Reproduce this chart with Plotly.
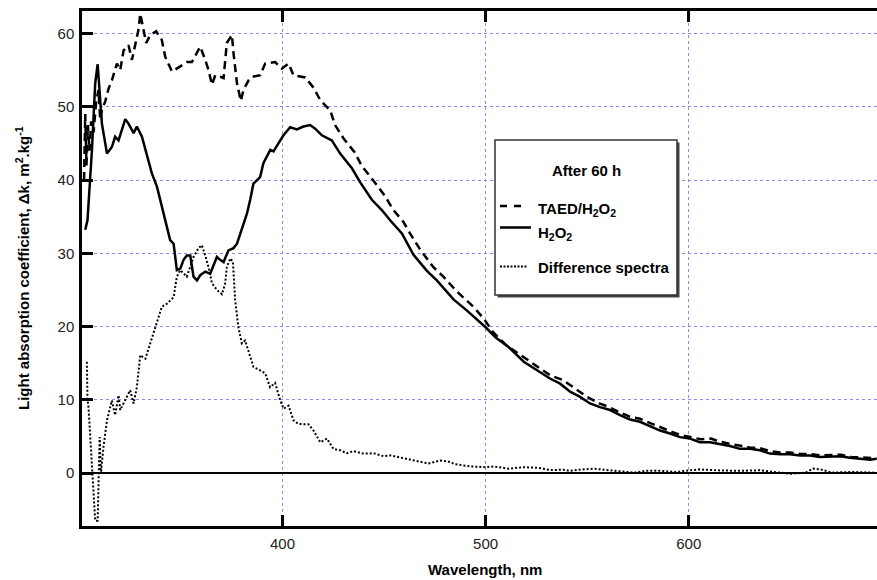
import plotly.graph_objects as go

# ---------------- data ----------------
wl_h2o2 = [302.9, 304.0, 306.2, 307.8, 309.0, 310.3, 311.1, 313.6, 316.0, 317.6, 319.3, 322.6,
           324.2, 326.7, 328.3, 330.8, 333.3, 335.7, 338.2, 341.4, 344.7, 346.4, 348.0, 349.7,
           351.3, 352.9, 354.6, 356.2, 357.9, 359.5, 362.0, 364.4, 366.0, 367.7, 369.3, 371.0,
           373.4, 375.9, 377.6, 379.2, 380.8, 382.5, 384.1, 385.7, 389.0, 390.6, 394.0, 395.6,
           398.0, 400.5, 403.8, 407.1, 410.3, 413.6, 416.1, 419.4, 424.3, 428.4, 434.2, 438.2,
           444.0, 448.9, 453.0, 458.8, 464.5, 471.1, 476.0, 480.9, 484.2, 490.7, 500.0, 505.0,
           511.3, 518.8, 526.8, 531.7, 536.7, 541.6, 546.5, 551.4, 556.3, 561.3, 566.2, 571.1,
           576.0, 581.0, 585.9, 590.8, 595.7, 600.6, 605.5, 610.5, 615.4, 620.3, 625.2, 630.1,
           635.1, 640.0, 644.9, 649.8, 654.8, 659.7, 664.6, 669.5, 674.5, 679.4, 684.3, 689.2,
           692.5]
k_h2o2 = [33.2, 34.5, 44.1, 53.2, 55.8, 50.0, 47.7, 43.6, 44.5, 45.9, 45.4, 48.3,
          47.7, 46.4, 47.3, 45.9, 43.2, 40.9, 39.1, 35.4, 31.8, 31.3, 27.7, 27.9,
          29.1, 29.7, 29.7, 26.8, 26.3, 27.0, 27.5, 27.2, 28.4, 29.5, 29.1, 28.8,
          30.4, 30.7, 31.3, 32.7, 33.8, 35.4, 37.3, 39.5, 40.4, 42.3, 44.1, 43.9,
          45.0, 46.1, 47.2, 46.9, 47.3, 47.5, 47.0, 46.1, 45.4, 43.6, 41.6, 39.7,
          37.3, 35.9, 34.5, 32.7, 29.8, 27.6, 26.3, 24.8, 23.7, 22.2, 19.9, 18.5,
          17.2, 15.2, 13.8, 12.9, 12.2, 11.1, 10.4, 9.5, 9.0, 8.6, 7.9, 7.3,
          7.0, 6.4, 5.8, 5.4, 4.9, 4.7, 4.2, 4.2, 4.0, 3.7, 3.3, 3.3,
          3.1, 2.65, 2.55, 2.55, 2.4, 2.4, 2.2, 2.2, 2.3, 2.1, 1.95, 1.8,
          1.95]

wl_taed = [302.3, 302.9, 303.5, 304.2, 305.0, 305.8, 307.0, 308.2, 309.4, 310.3, 311.1, 312.7,
           314.4, 316.0, 318.5, 320.1, 321.8, 324.2, 325.9, 327.5, 329.1, 330.0, 331.3, 332.9,
           334.9, 337.8, 340.6, 342.3, 345.6, 349.7, 353.0, 355.4, 359.5, 362.0, 363.6, 365.3,
           366.9, 369.3, 371.0, 372.6, 375.1, 375.9, 377.6, 379.5, 380.8, 383.3, 385.2, 389.0,
           391.5, 396.4, 399.7, 403.0, 405.4, 411.2, 415.3, 418.6, 423.5, 425.9, 430.0, 435.5,
           439.1, 444.8, 450.5, 454.6, 459.5, 462.8, 467.8, 474.3, 479.2, 485.8, 494.0, 499.0,
           503.8, 510.4, 518.6, 527.0, 532.0, 538.0, 545.0, 550.0, 556.0, 560.0, 566.0, 571.0,
           576.0, 581.0, 586.0, 591.0, 596.0, 602.0, 606.0, 611.0, 615.0, 620.0, 625.0, 630.0,
           635.0, 640.0, 645.0, 650.0, 655.0, 660.0, 665.0, 670.0, 675.0, 680.0, 685.0, 690.0,
           692.5]
k_taed = [40.0, 49.0, 42.0, 47.5, 44.0, 48.0, 46.5, 50.5, 52.3, 48.2, 49.6, 50.7,
          52.5, 53.6, 55.9, 55.0, 57.7, 58.4, 56.4, 58.7, 60.5, 62.7, 60.9, 58.7,
          59.8, 60.3, 59.1, 56.8, 54.8, 55.5, 56.1, 56.1, 58.2, 56.4, 55.0, 53.0,
          54.3, 54.1, 53.9, 58.7, 59.8, 57.3, 53.2, 50.8, 52.3, 53.6, 54.1, 54.3,
          55.9, 56.1, 55.2, 55.9, 54.3, 54.0, 52.6, 50.9, 49.5, 47.5, 45.7, 43.8,
          41.9, 39.9, 37.8, 35.9, 34.3, 32.7, 30.5, 28.1, 26.8, 24.8, 22.7, 21.1,
          19.2, 17.4, 15.8, 14.2, 13.3, 12.7, 11.3, 10.4, 9.5, 9.1, 8.3, 7.7,
          7.4, 6.8, 6.2, 5.7, 5.2, 4.9, 4.6, 4.7, 4.3, 4.0, 3.7, 3.5,
          3.4, 3.0, 2.8, 2.8, 2.6, 2.6, 2.4, 2.4, 2.5, 2.2, 2.1, 2.0,
          2.0]

wl_diff = [303.7, 304.0, 304.5, 305.4, 306.7, 307.8, 309.0, 310.0, 310.6, 311.9, 313.6, 316.0,
           317.6, 319.3, 320.1, 322.6, 325.0, 326.7, 328.3, 330.0, 332.5, 334.9, 337.4, 340.6,
           343.1, 346.4, 348.0, 349.7, 352.9, 356.2, 358.7, 360.3, 362.0, 363.6, 365.3, 367.7,
           370.2, 371.8, 372.6, 374.3, 375.6, 376.7, 378.3, 380.0, 381.6, 383.3, 385.7, 389.0,
           391.5, 393.9, 396.4, 398.9, 400.5, 403.0, 405.4, 407.9, 412.8, 415.3, 418.6, 421.9,
           425.1, 428.4, 431.7, 435.0, 439.9, 444.8, 449.7, 453.2, 462.6, 471.9, 477.6, 481.3,
           485.1, 492.6, 500.0, 503.8, 511.3, 518.8, 526.3, 531.9, 538.5, 541.3, 546.0, 553.5,
           558.2, 563.8, 573.2, 578.8, 586.3, 593.7, 600.3, 605.0, 614.4, 623.8, 635.0, 642.5,
           650.0, 657.5, 661.2, 665.0, 670.6, 680.0, 691.2]
k_diff = [15.2, 10.0, 9.0, 4.5, -1.0, -6.5, -6.5, 4.9, -0.1, 3.6, 7.2, 9.9,
          7.9, 10.6, 8.6, 9.9, 11.3, 9.5, 11.7, 16.1, 15.6, 17.7, 19.9, 22.7,
          23.1, 24.0, 26.8, 27.7, 26.8, 29.5, 30.7, 31.1, 29.7, 28.1, 25.9, 25.0,
          24.4, 25.9, 28.1, 29.3, 28.8, 23.6, 19.9, 17.7, 18.1, 16.5, 14.5, 14.0,
          13.6, 11.7, 12.3, 9.9, 8.8, 9.2, 7.2, 6.7, 6.65, 5.8, 4.2, 4.7,
          3.3, 3.1, 2.7, 3.0, 2.65, 2.7, 2.3, 2.4, 1.8, 1.3, 1.7, 1.6,
          1.2, 0.9, 0.8, 0.9, 0.6, 0.8, 0.7, 0.4, 0.45, 0.3, 0.45, 0.6,
          0.45, 0.3, 0.05, 0.3, 0.3, 0.15, 0.37, 0.5, 0.37, 0.3, 0.37, 0.15,
          -0.1, 0.05, 0.6, 0.5, 0.05, 0.15, 0.05]

x_ticks = [400, 500, 600]
y_ticks = [0, 10, 20, 30, 40, 50, 60]

x_title = "Wavelength, nm"
y_title = "Light absorption coefficient, Δk, m<sup>2</sup>.kg<sup>-1</sup>"
legend_title = "After 60 h"
names = ["TAED/H<sub>2</sub>O<sub>2</sub>", "H<sub>2</sub>O<sub>2</sub>", "Difference spectra"]

# ---------------- figure ----------------
W, H = 877, 580
ML, MR, MT, MB = 82, 0, 11, 54
PW, PH = W - ML - MR, H - MT - MB
FONT = "Liberation Sans, Arial, sans-serif"


def px(xp):
    return (xp - ML) / PW


def py(yp):
    return (H - MB - yp) / PH


fig = go.Figure()
fig.add_trace(go.Scatter(x=wl_taed, y=k_taed, mode="lines", name=names[0],
                         line=dict(color="black", width=2.5, dash="8px,5px")))
fig.add_trace(go.Scatter(x=wl_h2o2, y=k_h2o2, mode="lines", name=names[1],
                         line=dict(color="black", width=2.5)))
fig.add_trace(go.Scatter(x=wl_diff, y=k_diff, mode="lines", name=names[2],
                         line=dict(color="black", width=2, dash="2px,2px")))

axis_common = dict(
    ticks="inside", ticklen=11, tickwidth=2.5, tickcolor="black",
    showline=True, linewidth=2.5, linecolor="black",
    showgrid=True, gridcolor="#8a8aff", gridwidth=1, griddash="dot",
    tickfont=dict(family=FONT, size=15, color="#222"),
)

fig.update_xaxes(range=[301.3, 692.7], tickvals=x_ticks, mirror="ticks",
                 zeroline=False, ticklabelstandoff=2, **axis_common)
fig.update_yaxes(range=[-7.23, 63.07], tickvals=y_ticks, mirror=False,
                 zeroline=True, zerolinecolor="black", zerolinewidth=1.5,
                 ticklabelstandoff=2, **axis_common)

shapes = []
annotations = []

# legend box (shadow + box)
bx0, by0, bx1, by1 = 495, 140, 677, 295
shapes.append(dict(type="rect", xref="paper", yref="paper", layer="above",
                   x0=px(bx0 + 2.5), x1=px(bx1 + 2.5), y0=py(by0 + 2.5), y1=py(by1 + 2.5),
                   line=dict(width=0), fillcolor="#444"))
shapes.append(dict(type="rect", xref="paper", yref="paper", layer="above",
                   x0=px(bx0), x1=px(bx1), y0=py(by0), y1=py(by1),
                   line=dict(color="#333", width=1.5), fillcolor="white"))
# legend samples
shapes.append(dict(type="line", xref="paper", yref="paper", layer="above",
                   x0=px(500), x1=px(522), y0=py(206), y1=py(206),
                   line=dict(color="black", width=2.5, dash="7px,7px")))
shapes.append(dict(type="line", xref="paper", yref="paper", layer="above",
                   x0=px(500), x1=px(531), y0=py(227.5), y1=py(227.5),
                   line=dict(color="black", width=2.5)))
shapes.append(dict(type="line", xref="paper", yref="paper", layer="above",
                   x0=px(500), x1=px(528), y0=py(266.5), y1=py(266.5),
                   line=dict(color="black", width=2, dash="2px,1.5px")))

bold = dict(family=FONT, size=15, color="black")
annotations.append(dict(xref="paper", yref="paper", x=px(586), y=py(170), text="<b>" + legend_title + "</b>",
                        showarrow=False, xanchor="center", yanchor="middle", font=bold))
annotations.append(dict(xref="paper", yref="paper", x=px(536), y=py(209), text="<b>" + names[0] + "</b>",
                        showarrow=False, xanchor="left", yanchor="middle", font=bold))
annotations.append(dict(xref="paper", yref="paper", x=px(536), y=py(233), text="<b>" + names[1] + "</b>",
                        showarrow=False, xanchor="left", yanchor="middle", font=bold))
annotations.append(dict(xref="paper", yref="paper", x=px(536), y=py(267.5), text="<b>" + names[2] + "</b>",
                        showarrow=False, xanchor="left", yanchor="middle", font=bold))

# axis titles
annotations.append(dict(xref="paper", yref="paper", x=px(485), y=py(569), text="<b>" + x_title + "</b>",
                        showarrow=False, xanchor="center", yanchor="middle", font=bold))
annotations.append(dict(xref="paper", yref="paper", x=px(22), y=py(268), text="<b>" + y_title + "</b>",
                        showarrow=False, xanchor="center", yanchor="middle", textangle=-90, font=bold))

fig.update_layout(width=W, height=H, margin=dict(l=ML, r=MR, t=MT, b=MB),
                  plot_bgcolor="white", paper_bgcolor="white", showlegend=False,
                  shapes=shapes, annotations=annotations)

fig.write_html("out.html")
